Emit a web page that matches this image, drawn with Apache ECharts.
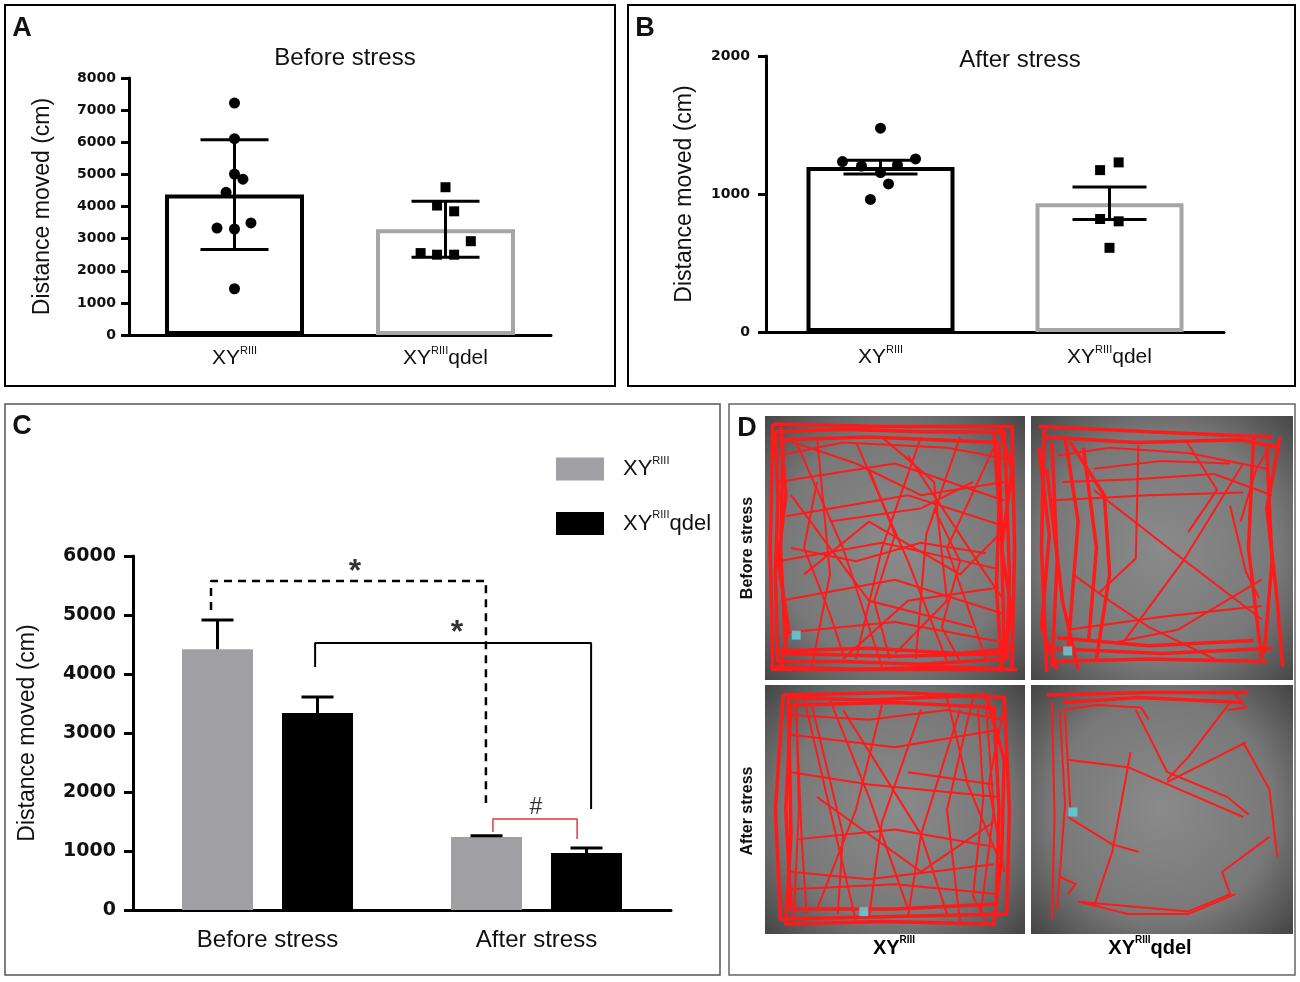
<!DOCTYPE html>
<html>
<head>
<meta charset="utf-8">
<title>Distance moved</title>
<script src="https://cdn.jsdelivr.net/npm/echarts@6.0.0/dist/echarts.min.js"></script>
<style>
  html, body { margin: 0; padding: 0; background: #fff; }
  #main { width: 1300px; height: 982px; }
</style>
</head>
<body>
<div id="main"></div>
<script>
// ---- data ----
const categoriesAB = ['XYRIII', 'XYRIIIqdel'];
const categoriesC = ['Before stress', 'After stress'];

// panel A: before stress, individual animals (cm) + horizontal jitter (category units)
const beforeXY = [7220, 6110, 5010, 4850, 4440, 3490, 3330, 3300, 1440];
const beforeXYJitter = [0, 0, 0, 0.04, -0.04, 0.078, -0.083, 0, 0];
const beforeQdel = [4600, 4030, 3850, 2920, 2550, 2500, 2500];
const beforeQdelJitter = [0, -0.04, 0.041, 0.12, -0.118, -0.04, 0.041];
const beforeMeans = [4370, 3290];
const beforeSD = [1710, 870];

// panel B: after stress
const afterXY = [1477, 1235, 1203, 1211, 1254, 1155, 1073, 961];
const afterXYJitter = [0, -0.166, -0.083, 0.074, 0.153, 0, 0.035, -0.044];
const afterQdel = [1229, 1173, 819, 802, 610];
const afterQdelJitter = [0.04, -0.041, -0.041, 0.04, 0];
const afterMeans = [1195, 933];
const afterSEM = [50, 118];

// panel C: group means and upper error
const cMeansXY = [4420, 1237];
const cErrXY = [495, 20];
const cMeansQdel = [3340, 966];
const cErrQdel = [270, 85];

// panel C significance brackets, x in category units (0 = before, 1 = after)
const bracketDashed = [[-0.21, 5085], [-0.21, 5576], [0.812, 5576], [0.812, 1814]];
const bracketSolid = [[0.177, 4119], [0.177, 4525], [1.203, 4525], [1.203, 1712]];
const bracketRed = [[0.838, 1322], [0.838, 1542], [1.151, 1542], [1.151, 1203]];
const starMarks = [[0.325, 5814], [0.704, 4780]];
const hashMarks = [[0.998, 1746]];

// panel D: traced paths in arena percent (x right, y down)
const trackBeforeXY = [
  [[4,6],[30,5],[60,6],[92,6],[93,30],[94,60],[93,92],[60,94],[30,93],[5,93],[4,60],[5,30],[4,6]],
  [[7,9],[40,8],[90,10],[91,45],[92,90],[50,91],[8,90],[6,50],[7,9]],
  [[3,3],[45,4],[95,4],[96,50],[95,96],[50,96],[3,96],[2,50],[3,3]],
  [[6,4],[8,30],[5,55],[9,80],[6,96]],
  [[90,4],[95,20],[91,50],[95,75],[90,97]],
  [[88,6],[90,35],[89,65],[91,95]],
  [[2,95],[35,96],[70,95],[97,96]],
  [[4,89],[40,88],[75,90],[96,88]],
  [[5,8],[35,18],[60,30],[92,25]],
  [[5,25],[50,18],[92,32]],
  [[8,38],[55,30],[93,42]],
  [[5,55],[45,48],[90,58]],
  [[12,10],[30,50],[45,95]],
  [[20,8],[25,60],[18,95]],
  [[35,10],[55,55],[70,93]],
  [[60,8],[45,50],[35,92]],
  [[75,8],[62,45],[58,92]],
  [[88,12],[70,50],[85,92]],
  [[6,70],[50,62],[92,75]],
  [[8,82],[50,78],[93,86]],
  [[10,30],[40,70],[80,80]],
  [[55,15],[85,60],[92,70]],
  [[25,40],[60,35],[80,25]],
  [[15,60],[40,40],[75,60],[90,45]],
  [[45,8],[65,25],[70,70],[50,90]],
  [[30,92],[55,70],[90,65]],
  [[5,15],[30,10],[70,12],[92,16]],
  [[40,20],[50,45],[42,70],[48,92]],
  [[65,35],[75,55],[68,80],[75,93]],
  [[10,50],[35,55],[60,48],[85,52]],
  [[20,25],[15,50],[25,75],[30,90]]
];
const trackBeforeQdel = [
  [[3,4],[45,6],[92,8]],
  [[5,8],[40,10],[80,9],[95,12]],
  [[5,5],[4,50],[6,97]],
  [[8,10],[10,55],[8,95]],
  [[13,8],[18,40],[14,90]],
  [[20,12],[25,50],[22,85]],
  [[15,10],[28,30],[30,60],[25,92]],
  [[6,20],[12,70],[18,96]],
  [[3,12],[7,45],[4,80],[10,96]],
  [[85,8],[83,50],[88,92]],
  [[90,12],[92,55],[89,90]],
  [[95,8],[90,35],[94,70],[96,95]],
  [[5,88],[50,90],[92,88]],
  [[10,84],[45,87],[85,85]],
  [[8,93],[45,92],[90,93]],
  [[35,86],[58,55],[81,18]],
  [[24,28],[55,52],[88,77]],
  [[7,32],[45,30],[81,29]],
  [[24,20],[50,17],[76,18]],
  [[14,81],[50,76],[88,72]],
  [[41,11],[40,54],[26,67]],
  [[59,9],[71,28],[60,44]],
  [[88,62],[56,81],[31,86]],
  [[76,34],[82,59],[87,69]],
  [[10,15],[30,12],[60,14],[90,20]],
  [[12,25],[40,24],[70,22],[92,30]],
  [[80,40],[86,20],[92,10]],
  [[16,60],[30,70],[45,80],[70,92]]
];
const trackAfterXY = [
  [[7,4],[50,3],[92,5],[94,50],[93,92],[50,93],[6,94],[4,50],[7,4]],
  [[10,8],[50,7],[88,9],[90,50],[89,88],[50,90],[10,90],[8,50],[10,8]],
  [[9,5],[40,6],[85,4],[92,30],[91,70],[88,96],[45,95],[8,96],[10,60],[9,5]],
  [[12,6],[13,50],[11,95]],
  [[15,5],[25,50],[35,95]],
  [[18,8],[30,60],[28,92]],
  [[25,6],[40,45],[55,90]],
  [[12,10],[14,60],[16,92]],
  [[80,5],[70,50],[75,95]],
  [[85,8],[88,50],[83,92]],
  [[75,10],[60,60],[55,93]],
  [[70,5],[78,40],[90,70]],
  [[10,20],[50,25],[90,18]],
  [[10,35],[40,40],[90,45]],
  [[12,62],[50,58],[88,65]],
  [[10,75],[40,78],[88,72]],
  [[10,82],[50,80],[90,84]],
  [[30,10],[60,60],[70,92]],
  [[45,8],[35,50],[20,90]],
  [[60,10],[45,55],[40,93]],
  [[55,35],[88,40]],
  [[20,45],[60,75],[88,55]],
  [[82,10],[84,45],[80,85],[85,95]],
  [[92,8],[86,40],[92,75]],
  [[10,12],[40,14],[70,10],[92,14]]
];
const trackAfterQdel = [
  [[6,4],[45,3],[83,3]],
  [[12,7],[41,5],[81,7]],
  [[12,10],[25,8],[42,9],[45,14]],
  [[8,7],[9,53],[8,94]],
  [[11,10],[13,48],[10,90]],
  [[13,11],[15,50]],
  [[14,30],[37,33],[81,53]],
  [[40,10],[52,35],[75,45],[83,52]],
  [[38,27],[31,67],[24,89]],
  [[14,53],[31,64],[41,67]],
  [[76,7],[60,29],[52,38]],
  [[82,23],[52,39]],
  [[81,23],[91,42],[94,69]],
  [[91,61],[73,75],[76,84],[60,91],[18,87]],
  [[18,87],[37,92],[60,92],[78,84]],
  [[11,77],[17,80],[14,84]],
  [[78,4],[82,9],[75,10]]
];
const startMarks = [[12, 83], [14, 89], [38, 91], [16, 51]];

// ---- helpers ----
const FONT = '"Liberation Sans", Arial, sans-serif';
const TICK_FONT = '"DejaVu Sans", sans-serif';

function supLabel(name) {
  const rest = name.slice(6);
  return '{n|' + name.slice(0, 2) + '}{s|' + name.slice(2, 6) + '}' + (rest ? '{n|' + rest + '}' : '');
}
function supRich(size, bold) {
  const w = bold ? 'bold' : 'normal';
  return {
    n: { fontSize: size, fontFamily: FONT, fontWeight: w, color: '#111', lineHeight: size + 6 },
    s: { fontSize: Math.round(size * 0.5), fontFamily: FONT, fontWeight: w, color: '#111', lineHeight: Math.round(size * 0.6), verticalAlign: 'top' }
  };
}

function valueAxis(gridIndex, max, nameGap, labelSize, margin, tickLen) {
  return {
    type: 'value', gridIndex, min: 0, max, interval: 1000,
    name: 'Distance moved (cm)', nameLocation: 'middle', nameGap,
    nameTextStyle: { fontSize: 23, fontFamily: FONT, color: '#111' },
    axisLine: { show: true, onZero: false, lineStyle: { color: '#000', width: 3 } },
    axisTick: { show: true, length: tickLen, lineStyle: { color: '#000', width: 3 } },
    axisLabel: { fontFamily: TICK_FONT, fontWeight: 'bold', fontSize: labelSize, color: '#111', margin, formatter: v => String(v) },
    splitLine: { show: false }
  };
}
function categoryAxis(gridIndex, data, formatter, rich, margin, fontSize) {
  return {
    type: 'category', gridIndex, data,
    axisLine: { onZero: false, lineStyle: { color: '#000', width: 3 } },
    axisTick: { show: false },
    axisLabel: { margin, formatter, rich, fontSize, fontFamily: FONT, color: '#111', interval: 0 }
  };
}
function hiddenX(gridIndex, min, max) {
  return { type: 'value', gridIndex, min, max, show: false };
}

// error bar renderer: halfCap px, offset px from category centre, whether only upward
function errBars(halfCap, offset, upOnly, width) {
  return function (params, api) {
    const i = api.value(0), m = api.value(1), e = api.value(2);
    const top = api.coord([i, m + e]);
    const bot = api.coord([i, upOnly ? m : m - e]);
    const x = top[0] + offset;
    const st = { stroke: '#000', lineWidth: width };
    const kids = [
      { type: 'line', shape: { x1: x, y1: top[1], x2: x, y2: bot[1] }, style: st },
      { type: 'line', shape: { x1: x - halfCap, y1: top[1], x2: x + halfCap, y2: top[1] }, style: st }
    ];
    if (!upOnly) kids.push({ type: 'line', shape: { x1: x - halfCap, y1: bot[1], x2: x + halfCap, y2: bot[1] }, style: st });
    return { type: 'group', children: kids };
  };
}

function arenaBg() {
  return {
    type: 'radial', x: 0.5, y: 0.5, r: 0.72,
    colorStops: [
      { offset: 0, color: '#8a8a8a' },
      { offset: 0.62, color: '#787878' },
      { offset: 1, color: '#454545' }
    ]
  };
}

// wall = how many leading paths are the heavily re-walked wall runs
const arenas = [
  { left: 765, top: 416, width: 260, height: 264, track: trackBeforeXY, wall: 8 },
  { left: 1031, top: 416, width: 262, height: 264, track: trackBeforeQdel, wall: 15 },
  { left: 765, top: 685, width: 260, height: 249, track: trackAfterXY, wall: 3 },
  { left: 1031, top: 685, width: 262, height: 249, track: trackAfterQdel, wall: 2 }
];

// ---- grids & axes ----
const grids = [
  { left: 129, top: 78, width: 422, height: 257 },   // A
  { left: 766, top: 56, width: 458, height: 276 },   // B
  { left: 133, top: 556, width: 538, height: 354 }   // C
];
arenas.forEach(a => grids.push({ left: a.left, top: a.top, width: a.width, height: a.height,
  show: true, backgroundColor: arenaBg(), borderWidth: 0 }));

const richAB = supRich(21, false);
const xAxes = [
  categoryAxis(0, categoriesAB, supLabel, richAB, 10, 21),
  hiddenX(0, -0.5, 1.5),
  categoryAxis(1, categoriesAB, supLabel, richAB, 12, 21),
  hiddenX(1, -0.5, 1.5),
  categoryAxis(2, categoriesC, null, null, 18, 24),
  hiddenX(2, -0.5, 1.5)
];
const yAxes = [
  valueAxis(0, 8000, 75, 14, 13, 8),
  valueAxis(1, 2000, 70, 14, 16, 8),
  valueAxis(2, 6000, 94, 19, 17, 9)
];
arenas.forEach((a, k) => {
  xAxes.push({ type: 'value', gridIndex: 3 + k, min: 0, max: 100, show: false });
  yAxes.push({ type: 'value', gridIndex: 3 + k, min: 0, max: 100, inverse: true, show: false });
});

// ---- series ----
const series = [];
function outlineBars(xi, yi, means, colors, barW) {
  series.push({
    type: 'bar', xAxisIndex: xi, yAxisIndex: yi, barWidth: barW, silent: true,
    data: means.map((v, i) => ({ value: v, itemStyle: { color: '#fff', borderColor: colors[i], borderWidth: 4 } })),
    z: 2
  });
}
function dots(xi, yi, values, jitter, cat, symbol, size) {
  series.push({
    type: 'scatter', xAxisIndex: xi, yAxisIndex: yi, symbol, symbolSize: size, silent: true,
    itemStyle: { color: '#000', opacity: 1 },
    data: values.map((v, i) => [cat + jitter[i], v]), z: 5
  });
}
function errSeries(xi, yi, means, errs, halfCap, offset, upOnly, width) {
  series.push({
    type: 'custom', xAxisIndex: xi, yAxisIndex: yi, silent: true,
    renderItem: errBars(halfCap, offset, upOnly, width),
    encode: { x: 0, y: 1 },
    data: means.map((m, i) => [i, m, errs[i]]), z: 4
  });
}

// A
outlineBars(0, 0, beforeMeans, ['#000', '#a6a6a6'], 139);
errSeries(0, 0, beforeMeans, beforeSD, 34, 0, false, 3);
dots(1, 0, beforeXY, beforeXYJitter, 0, 'circle', 11);
dots(1, 0, beforeQdel, beforeQdelJitter, 1, 'rect', 10);

// B
outlineBars(2, 1, afterMeans, ['#000', '#a6a6a6'], 148);
errSeries(2, 1, afterMeans, afterSEM, 37, 0, false, 3);
dots(3, 1, afterXY, afterXYJitter, 0, 'circle', 11);
dots(3, 1, afterQdel, afterQdelJitter, 1, 'rect', 10);

// C
const C_BAR = 71, C_GAP = 29;
series.push({
  name: 'XYRIII', type: 'bar', xAxisIndex: 4, yAxisIndex: 2, barWidth: C_BAR, barGap: (C_GAP / C_BAR * 100) + '%',
  itemStyle: { color: '#a0a0a4' }, data: cMeansXY, silent: true
});
series.push({
  name: 'XYRIIIqdel', type: 'bar', xAxisIndex: 4, yAxisIndex: 2, barWidth: C_BAR,
  itemStyle: { color: '#000' }, data: cMeansQdel, silent: true
});
errSeries(4, 2, cMeansXY, cErrXY, 16, -(C_BAR + C_GAP) / 2, true, 3);
errSeries(4, 2, cMeansQdel, cErrQdel, 16, (C_BAR + C_GAP) / 2, true, 3);

function bracket(data, color, width, type) {
  series.push({
    type: 'line', xAxisIndex: 5, yAxisIndex: 2, data, symbol: 'none', silent: true,
    lineStyle: { color, width, type }, z: 6
  });
}
bracket(bracketDashed, '#000', 2.5, [8, 6]);
bracket(bracketSolid, '#000', 2, 'solid');
bracket(bracketRed, '#e03a3a', 1.5, 'solid');
function marks(data, text, font, offsetY) {
  series.push({
    type: 'scatter', xAxisIndex: 5, yAxisIndex: 2, symbolSize: 2, silent: true,
    itemStyle: { color: 'rgba(0,0,0,0)' },
    data,
    label: { show: true, position: 'inside', color: '#000', formatter: text, offset: [0, offsetY],
      fontFamily: FONT, fontSize: font.size, fontWeight: font.weight },
    z: 7
  });
}
marks(starMarks, '*', { size: 32, weight: 'bold' }, 5);
marks(hashMarks, '#', { size: 23, weight: 'normal' }, 1);

// D
arenas.forEach((a, k) => {
  series.push({
    type: 'lines', coordinateSystem: 'cartesian2d', xAxisIndex: 6 + k, yAxisIndex: 3 + k,
    polyline: true, silent: true,
    lineStyle: { color: '#ff1a1a', width: 2, opacity: 1 },
    data: a.track.map((c, i) => i < a.wall
      ? { coords: c, lineStyle: { width: 3.5 } }
      : { coords: c }),
    z: 3
  });
  series.push({
    type: 'scatter', xAxisIndex: 6 + k, yAxisIndex: 3 + k, symbol: 'rect', symbolSize: 9, silent: true,
    itemStyle: { color: '#5fd6e3' }, data: [startMarks[k]], z: 4
  });
});

// ---- free texts / frames ----
function txt(x, y, text, font, extra) {
  return Object.assign({
    type: 'text', x, y, silent: true,
    style: { text, font, fill: '#111', align: 'center', verticalAlign: 'middle', textAlign: 'center', textVerticalAlign: 'middle' }
  }, extra || {});
}
function richTxt(x, y, text, rich) {
  return {
    type: 'text', x, y, silent: true,
    style: { text, rich, align: 'center', verticalAlign: 'middle', textAlign: 'center', textVerticalAlign: 'middle' }
  };
}
function frame(x, y, w, h, color, lw) {
  return { type: 'rect', shape: { x, y, width: w, height: h }, silent: true, z: -1,
    style: { fill: 'none', stroke: color, lineWidth: lw } };
}
const richD = supRich(20, true);
const graphics = [
  frame(5, 5, 610, 381, '#000', 2),
  frame(628, 5, 667, 381, '#000', 2),
  frame(5, 404, 715, 571, '#555', 1.5),
  frame(729, 404, 566, 571, '#666', 1.5),
  txt(22, 29, 'A', 'bold 27px ' + FONT),
  txt(645, 29, 'B', 'bold 27px ' + FONT),
  txt(22, 427, 'C', 'bold 27px ' + FONT),
  txt(747, 429, 'D', 'bold 27px ' + FONT),
  txt(345, 58, 'Before stress', '24px ' + FONT),
  txt(1020, 60, 'After stress', '24px ' + FONT),
  txt(748, 548, 'Before stress', 'bold 16px ' + FONT, { rotation: Math.PI / 2 }),
  txt(748, 811, 'After stress', 'bold 16px ' + FONT, { rotation: Math.PI / 2 }),
  richTxt(894, 948, supLabel('XYRIII'), richD),
  richTxt(1150, 948, supLabel('XYRIIIqdel'), richD)
];

const option = {
  animation: false,
  backgroundColor: '#fff',
  grid: grids,
  xAxis: xAxes,
  yAxis: yAxes,
  legend: {
    data: ['XYRIII', 'XYRIIIqdel'],
    orient: 'vertical', left: 556, top: 455, padding: 0,
    icon: 'rect', itemWidth: 48, itemHeight: 23, itemGap: 29,
    selectedMode: false,
    formatter: supLabel,
    textStyle: { padding: [0, 0, 0, 14], rich: supRich(22, false) }
  },
  graphic: { elements: graphics },
  series
};

const chart = echarts.init(document.getElementById('main'), null, { renderer: 'canvas' });
chart.setOption(option);
</script>
</body>
</html>
